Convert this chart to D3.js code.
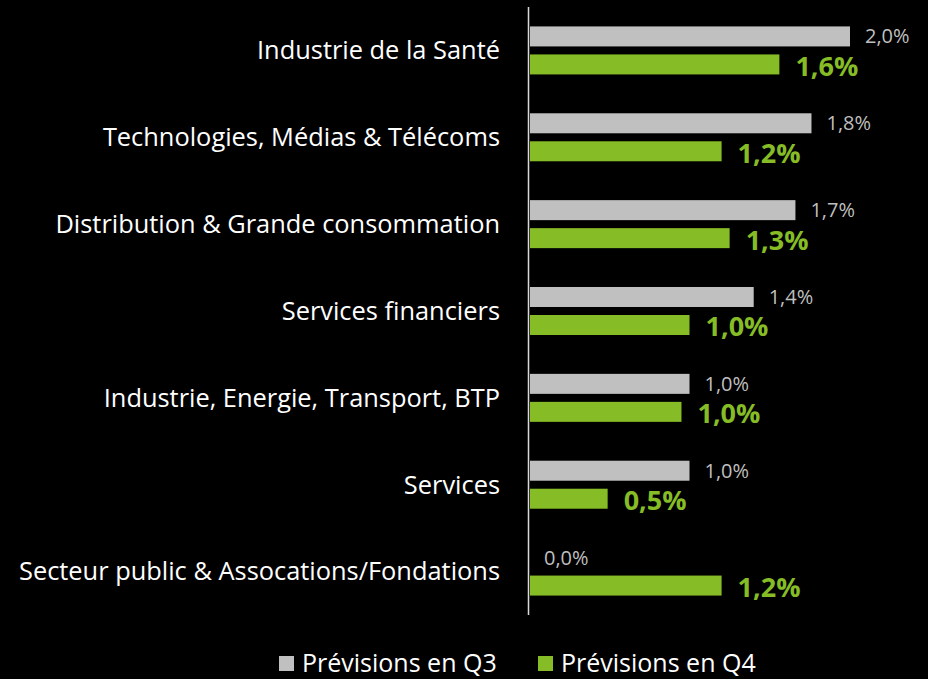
<!DOCTYPE html>
<html><head><meta charset="utf-8">
<script src="https://cdn.jsdelivr.net/npm/d3@7"></script>
<style>html,body{margin:0;padding:0;background:#000;}svg{display:block;}</style>
</head><body>
<svg id="c" width="928" height="679"></svg>
<script>
const categories = ["Industrie de la Santé","Technologies, Médias & Télécoms","Distribution & Grande consommation","Services financiers","Industrie, Energie, Transport, BTP","Services","Secteur public & Assocations/Fondations"];
const q3Values = [2.0, 1.76, 1.66, 1.40, 1.0, 1.0, 0.0];
const q4Values = [1.56, 1.2, 1.25, 1.0, 0.95, 0.49, 1.2];
const q3Labels = ["2,0%","1,8%","1,7%","1,4%","1,0%","1,0%","0,0%"];
const q4Labels = ["1,6%","1,2%","1,3%","1,0%","1,0%","0,5%","1,2%"];
const seriesNames = ["Prévisions en Q3","Prévisions en Q4"];

const grey = "#c0c0c0", green = "#86bc25";
const font = "'Open Sans', sans-serif";
const svg = d3.select("#c");
const x = d3.scaleLinear().domain([0, 2.0]).range([529, 850]);
const y = d3.scaleBand().domain(categories).range([7, 615]);
const barH = 20, gap = 8;

// axis line
svg.append("line").attr("x1", 528.5).attr("x2", 528.5).attr("y1", 7).attr("y2", 615)
  .attr("stroke", "#d9d9d9").attr("stroke-width", 1.5);

const g = svg.append("g");
categories.forEach((c, i) => {
  const cy = y(c) + y.bandwidth() / 2;
  const y3 = cy - gap / 2 - barH, y4 = cy + gap / 2;
  g.append("rect").attr("x", x(0) + 1).attr("y", y3).attr("width", Math.max(0, x(q3Values[i]) - x(0) - 1)).attr("height", barH).attr("fill", grey);
  g.append("rect").attr("x", x(0) + 1).attr("y", y4).attr("width", x(q4Values[i]) - x(0) - 1).attr("height", barH).attr("fill", green);
  g.append("text").attr("x", x(q3Values[i]) + 15).attr("y", y3 + barH / 2).attr("dy", "0.35em")
    .attr("fill", "#bfbfbf").attr("font-family", font).attr("font-size", 20).text(q3Labels[i]);
  g.append("text").attr("x", x(q4Values[i]) + 16).attr("y", y4 + barH / 2 + 2).attr("dy", "0.35em")
    .attr("fill", green).attr("font-family", font).attr("font-weight", "bold").attr("font-size", 27).text(q4Labels[i]);
  g.append("text").attr("x", 500).attr("y", cy).attr("dy", "0.35em").attr("text-anchor", "end")
    .attr("fill", "#fff").attr("font-family", font).attr("font-size", 25.4).text(c);
});

// legend
const leg = svg.append("g");
const legX = [279, 538];
seriesNames.forEach((n, i) => {
  leg.append("rect").attr("x", legX[i]).attr("y", 656).attr("width", 15).attr("height", 15).attr("fill", i ? green : grey);
  leg.append("text").attr("x", legX[i] + 23).attr("y", 663).attr("dy", "0.35em").attr("fill", "#fff")
    .attr("font-family", font).attr("font-size", 25).text(n);
});
</script>
</body></html>
